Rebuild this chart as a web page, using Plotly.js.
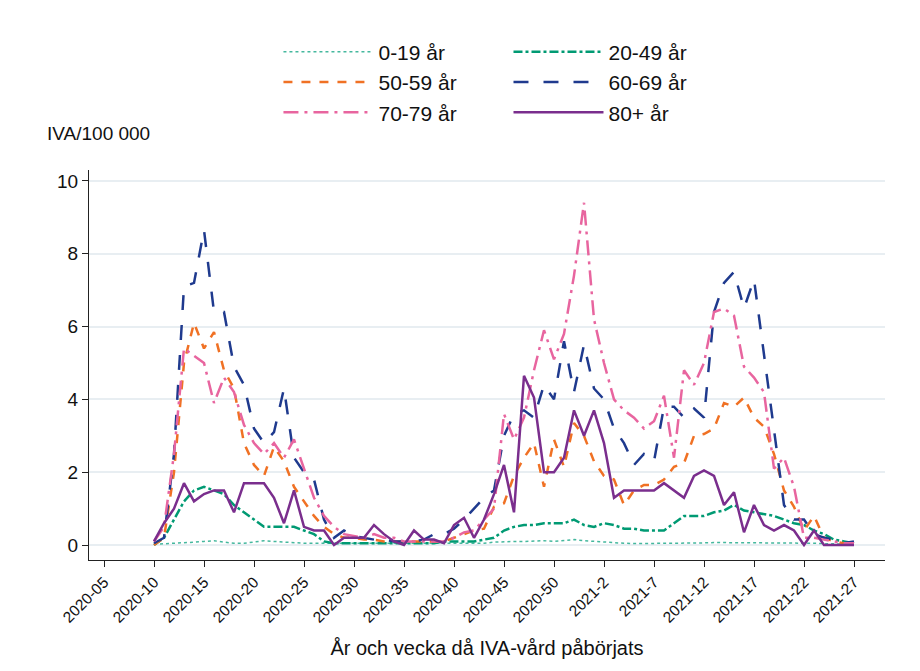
<!DOCTYPE html>
<html><head><meta charset="utf-8">
<script src="https://cdn.plot.ly/plotly-3.0.1.min.js"></script>
<style>html,body{margin:0;padding:0;background:#fff}#chart{width:920px;height:671px}</style>
</head><body><div id="chart"></div>
<script>
// x = week index: 2020 weeks as-is, 2021 weeks as 53 + week
const tickVals = [5,10,15,20,25,30,35,40,45,50,55,60,65,70,75,80];
const tickText = ['2020-05','2020-10','2020-15','2020-20','2020-25','2020-30','2020-35','2020-40','2020-45','2020-50','2021-2','2021-7','2021-12','2021-17','2021-22','2021-27'];
const weeks = Array.from({length: 71}, (_, i) => 10 + i);

const age0_19 = [0.02,0.03,0.04,0.05,0.08,0.1,0.12,0.08,0.05,0.05,0.08,0.12,0.1,0.08,0.06,0.05,0.05,0.05,0.03,0.03,0.03,0.03,0.03,0.03,0.03,0.03,0.03,0.03,0.03,
  0.03,0.03,0.03,0.03,0.05,0.08,0.1,0.1,0.1,0.12,0.12,0.1,0.12,0.15,0.12,0.1,0.08,0.05,0.05,0.04,0.04,0.05,0.05,0.05,0.06,0.06,0.06,0.07,0.07,0.05,0.05,0.05,0.05,0.05,0.05,0.05,0.05,0.05,0.04,0.03,0.03,0.02];
const age20_49 = [0,0.2,0.7,1.2,1.5,1.6,1.5,1.4,1.1,0.9,0.7,0.5,0.5,0.5,0.5,0.4,0.3,0.1,0.05,0.05,0.05,0.05,0.05,0.05,0.05,0.05,0.05,0.05,0.05,
  0.1,0.1,0.1,0.1,0.15,0.2,0.4,0.5,0.55,0.55,0.6,0.6,0.6,0.7,0.55,0.5,0.6,0.55,0.45,0.45,0.4,0.4,0.4,0.6,0.8,0.8,0.8,0.9,0.95,1.1,0.95,0.9,0.85,0.8,0.7,0.6,0.55,0.4,0.3,0.15,0.1,0.05];
const age50_59 = [0,0.2,2,5,6.1,5.4,5.85,4.8,4.3,2.8,2.2,1.9,2.7,2.3,1.6,1.2,0.8,0.5,0.3,0.2,0.2,0.15,0.15,0.1,0.1,0.1,0.1,0.1,0.1,
  0.1,0.2,0.3,0.4,0.45,1.05,1.15,1.9,2.4,2.8,1.6,2.9,2.15,3.35,3.0,2.3,1.9,1.8,1.1,1.5,1.65,1.65,1.8,2.15,2.25,3.0,3.05,3.2,3.9,3.8,4.05,3.5,3.25,2.5,1.5,1.05,0.4,0.8,0.2,0.1,0.05,0.05];
const age60_69 = [0.05,0.2,2.5,7.1,7.2,8.65,6.4,6.4,4.9,4.4,3.2,2.8,3.1,4.3,2.4,2.0,1.8,0.7,0.2,0.4,0.25,0.2,0.15,0.15,0.1,0.1,0.1,0.15,0.3,
  0.3,0.45,0.7,1.0,1.3,1.5,3.0,3.6,3.7,3.5,4.4,4.0,5.6,4.2,5.5,4.3,4.0,3.2,2.8,2.2,2.5,2.3,3.8,3.8,3.5,3.75,3.5,6.4,7.2,7.5,6.5,7.3,5.2,3.2,1.1,0.7,0.7,0.3,0.2,0.15,0.05,0.1];
const age70_79 = [0.1,0.5,2.5,5.4,5.2,5.0,3.9,4.6,4.2,3.3,2.8,2.5,2.8,2.4,2.9,2.1,1.3,0.8,0.5,0.3,0.25,0.2,0.3,0.2,0.2,0.1,0.1,0.1,0.1,
  0.1,0.2,0.35,0.4,0.7,1.0,3.6,2.9,3.5,4.8,5.9,5.1,5.8,7.4,9.4,6.2,5.0,4.0,3.7,3.5,3.2,3.4,4.1,2.4,4.8,4.4,5.0,6.4,6.5,6.3,4.9,4.6,4.2,2.1,2.4,1.6,0.2,0.2,0.15,0.1,0.05,0.05];
const age80 = [0.1,0.6,1.0,1.7,1.2,1.4,1.5,1.5,0.9,1.7,1.7,1.7,1.3,0.6,1.5,0.5,0.4,0.4,0.0,0.2,0.2,0.2,0.55,0.3,0.1,0.0,0.4,0.15,0.15,
  0.05,0.55,0.75,0.2,0.7,1.4,2.2,0.9,4.65,4.05,2.0,2.0,2.4,3.7,3.0,3.7,2.8,1.3,1.5,1.5,1.5,1.5,1.7,1.5,1.3,1.9,2.05,1.9,1.1,1.45,0.35,1.1,0.55,0.4,0.55,0.4,0.0,0.4,0.0,0.0,0.0,0.0];

const series = [
  { name: '0-19 år', y: age0_19, color: '#45b89e', dash: 'dot', width: 1.5, legend: 'legend' },
  { name: '20-49 år', y: age20_49, color: '#009a73', dash: 'dashdot', width: 2.5, legend: 'legend2' },
  { name: '50-59 år', y: age50_59, color: '#f07124', dash: 'dash', width: 2.5, legend: 'legend' },
  { name: '60-69 år', y: age60_69, color: '#1f3a8e', dash: 'longdash', width: 2.5, legend: 'legend2' },
  { name: '70-79 år', y: age70_79, color: '#e8659f', dash: 'longdashdot', width: 2.5, legend: 'legend' },
  { name: '80+ år', y: age80, color: '#7a2e8d', dash: 'solid', width: 2.5, legend: 'legend2' }
];

const traces = series.map(s => ({
  x: weeks, y: s.y, name: s.name, type: 'scatter', mode: 'lines', legend: s.legend,
  line: { color: s.color, dash: s.dash, width: s.width }
}));

const font = 'Liberation Sans, Arial, sans-serif';
const legendBase = { orientation: 'v', yanchor: 'top', y: 1.355, bgcolor: 'rgba(0,0,0,0)',
  font: { family: font, size: 21, color: '#111' }, itemwidth: 90, tracegroupgap: 0 };

const layout = {
  width: 920, height: 671,
  paper_bgcolor: '#fff', plot_bgcolor: '#fff',
  font: { family: font, color: '#111' },
  margin: { l: 89, r: 35, t: 170, b: 111 },
  showlegend: true,
  legend: { ...legendBase, x: 0.238 },
  legend2: { ...legendBase, x: 0.527 },
  xaxis: {
    range: [3.5, 83.1], tickmode: 'array', tickvals: tickVals, ticktext: tickText,
    tickangle: -45, tickfont: { size: 15.5, color: '#111' },
    ticks: 'outside', ticklen: 6, tickcolor: '#222', showline: true, linecolor: '#222', linewidth: 1.3,
    showgrid: false, zeroline: false, mirror: false,
    title: { text: 'År och vecka då IVA-vård påbörjats', font: { size: 20, color: '#111' }, standoff: 16 }
  },
  yaxis: {
    range: [-0.41, 10.3], tickvals: [0,2,4,6,8,10],
    tickfont: { size: 19, color: '#111' },
    ticks: 'outside', ticklen: 6, tickcolor: '#222', showline: true, linecolor: '#222', linewidth: 1.3,
    gridcolor: '#e8eef2', gridwidth: 1.5, zeroline: false
  },
  annotations: [{
    text: 'IVA/100 000', xref: 'paper', yref: 'paper', x: -0.055, y: 1.062,
    xanchor: 'left', yanchor: 'bottom', showarrow: false, font: { size: 19, color: '#111' }
  }]
};

Plotly.newPlot('chart', traces, layout, { displayModeBar: false, responsive: false });
</script></body></html>
